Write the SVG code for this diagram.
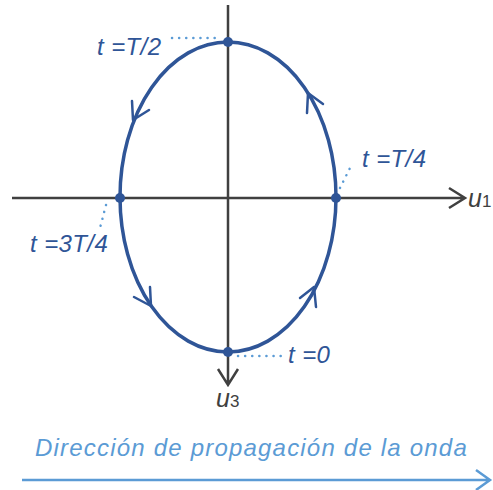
<svg xmlns="http://www.w3.org/2000/svg" width="493" height="490" viewBox="0 0 493 490">
<style>
.axis{stroke:#404040;stroke-width:2.5;fill:none}
.curve{stroke:#2f5597;stroke-width:3.5;fill:none;stroke-linecap:round;stroke-linejoin:round}
.arr{stroke:#2f5597;stroke-width:2.5;fill:none;stroke-linecap:round;stroke-linejoin:round}
.dot{stroke:#5b9bd5;stroke-width:2.5;stroke-dasharray:0.1 7;stroke-linecap:round;fill:none}
.lbl{font-family:"Liberation Sans",Arial,sans-serif;font-style:italic;font-size:24px;letter-spacing:0.4px;fill:#2f5597}
.ax{font-family:"Liberation Sans",Arial,sans-serif;font-style:italic;font-size:25px;fill:#404040}
.prop{font-family:"Liberation Sans",Arial,sans-serif;font-style:italic;font-size:24px;letter-spacing:1.2px;fill:#5b9bd5}
</style>
<g id="connectors">
<path class="axis" d="M12,198 H465 M449,188 L465,198 L449,208"/>
<path class="axis" d="M228,5 V385 M218,369 L228,385 L238,369"/>
<ellipse class="curve" cx="228" cy="197" rx="108" ry="155"/>
<path class="arr" d="M132,101 L133,120 L149,110"/>
<path class="arr" d="M150,287 L151,306 L134,297"/>
<path class="arr" d="M316,307 L314,287 L300,298"/>
<path class="arr" d="M307,113 L308,93 L323,104"/>
<path class="dot" d="M172,38 H220"/>
<path class="dot" d="M340,188 L350,168"/>
<path class="dot" d="M106,205 L100,228"/>
<path class="dot" d="M238,356 H283"/>
<path d="M22,480 H490 M476,470 L490,480 L476,490" stroke="#5b9bd5" stroke-width="2.5" fill="none"/>
</g>
<g id="points" fill="#2f5597">
<circle cx="228" cy="42" r="5"/>
<circle cx="336" cy="198" r="5"/>
<circle cx="120" cy="198" r="5"/>
<circle cx="228" cy="352" r="5"/>
</g>
<g id="labels">
<text class="lbl" x="97" y="55">t =T/2</text>
<text class="lbl" x="362" y="167">t =T/4</text>
<text class="lbl" x="30" y="252">t =3T/4</text>
<text class="lbl" x="288" y="363">t =0</text>
<text class="ax" x="468" y="207">u<tspan font-size="17" font-style="normal">1</tspan></text>
<text class="ax" x="216" y="407">u<tspan font-size="17" font-style="normal">3</tspan></text>
<text class="prop" x="35" y="456">Dirección de propagación de la onda</text>
</g>
</svg>
